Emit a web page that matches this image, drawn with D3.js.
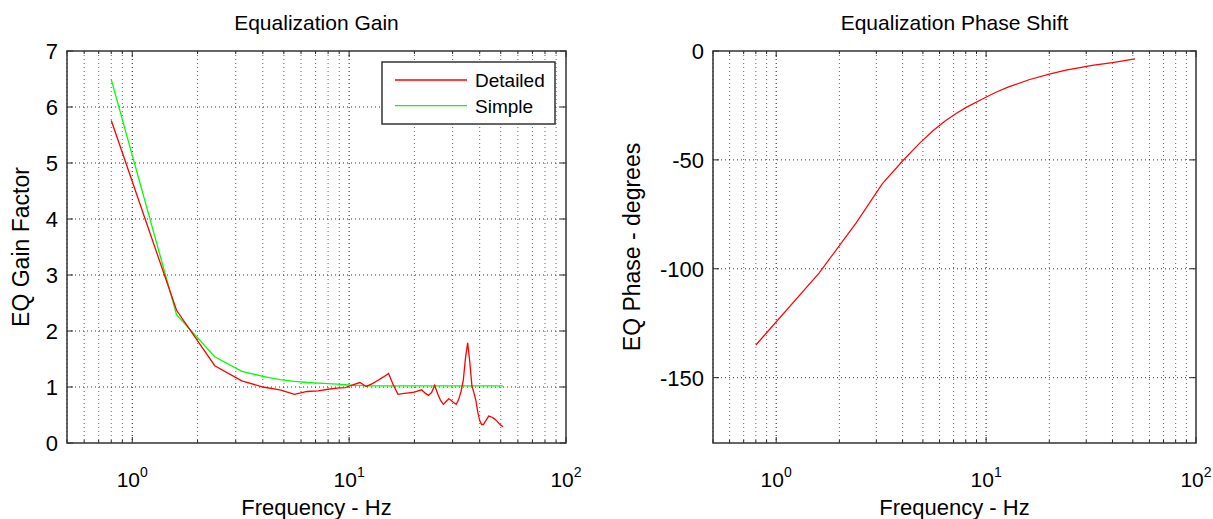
<!DOCTYPE html>
<html>
<head>
<meta charset="utf-8">
<script src="https://cdn.jsdelivr.net/npm/d3@7"></script>
<style>
  body { margin: 0; background: #fff; }
  svg { display: block; font-family: "Liberation Sans", Arial, Helvetica, sans-serif; }
</style>
</head>
<body>
<svg id="chart"></svg>
<script>
// Frequencies (Hz) of the gain samples
const freqs = [0.8, 1.6, 2.4, 3.2, 4.0, 4.8, 5.6, 6.4, 7.2, 8.0,
  8.8, 9.6, 10.4, 11.2, 12.0, 12.8, 13.6, 14.4, 15.2, 16.0,
  16.8, 17.6, 18.4, 19.2, 20.0, 20.8, 21.6, 22.4, 23.2, 24.0,
  24.8, 25.6, 26.4, 27.2, 28.0, 28.8, 29.6, 30.4, 31.2, 32.0,
  32.8, 33.6, 34.4, 35.2, 36.0, 36.8, 37.6, 38.4, 39.2, 40.0,
  40.8, 41.6, 42.4, 43.2, 44.0, 44.8, 45.6, 46.4, 47.2, 48.0,
  48.8, 49.6, 50.4, 51.2];

// EQ gain factor, detailed model
const detailed = [5.76, 2.37, 1.38, 1.11, 1.00, 0.95, 0.87, 0.92, 0.93, 0.96,
  0.98, 0.99, 1.04, 1.08, 1.01, 1.06, 1.12, 1.18, 1.24, 1.03,
  0.87, 0.88, 0.89, 0.90, 0.91, 0.93, 0.95, 0.89, 0.85, 0.90,
  1.03, 0.88, 0.76, 0.69, 0.74, 0.79, 0.76, 0.72, 0.69, 0.78,
  0.92, 1.12, 1.52, 1.79, 1.45, 1.03, 0.90, 0.76, 0.55, 0.40,
  0.33, 0.33, 0.38, 0.43, 0.48, 0.47, 0.46, 0.44, 0.42, 0.39,
  0.36, 0.33, 0.31, 0.29];

// EQ gain factor, simple model
const simple = [6.49, 2.29, 1.54, 1.28, 1.19, 1.13, 1.10, 1.08, 1.07, 1.06,
  1.05, 1.04, 1.03, 1.03, 1.02, 1.02, 1.02, 1.02, 1.02, 1.02,
  1.02, 1.02, 1.02, 1.02, 1.02, 1.02, 1.02, 1.02, 1.02, 1.02,
  1.02, 1.02, 1.02, 1.02, 1.02, 1.02, 1.02, 1.02, 1.02, 1.02,
  1.02, 1.02, 1.02, 1.02, 1.02, 1.02, 1.02, 1.02, 1.02, 1.02,
  1.02, 1.02, 1.02, 1.02, 1.02, 1.02, 1.02, 1.02, 1.02, 1.02,
  1.02, 1.02, 1.02, 1.02];

// Phase shift (degrees)
const phaseFreqs = [0.8, 1.6, 2.4, 3.2, 4.0, 4.8, 5.6, 6.4, 7.2, 8.0,
  9.6, 11.2, 12.8, 16.0, 20.0, 24.0, 28.0, 32.0, 40.0, 51.2];
const phase = [-135, -102, -79, -61, -50.5, -42.5, -36.5, -32, -28.7, -26,
  -22, -18.8, -16.5, -13.2, -10.6, -8.8, -7.6, -6.6, -5.3, -3.6];

const gainTicks = [0, 1, 2, 3, 4, 5, 6, 7];
const phaseTicks = [-150, -100, -50, 0];
const decades = [1, 10, 100];

const W = 1213, H = 519;
const svg = d3.select('#chart').attr('width', W).attr('height', H);

// minor log ticks between 0.5 and 100
const minorTicks = [];
[0.1, 1, 10].forEach(b => {
  for (let k = 2; k <= 9; k++) {
    const v = b * k;
    if (v >= 0.5 && v < 100) minorTicks.push(v);
  }
});

function panel(o) {
  const x = d3.scaleLog().domain([0.5, 100]).range([o.left, o.right]);
  const y = d3.scaleLinear().domain(o.yDomain).range([o.bottom, o.top]);
  const g = svg.append('g');

  // grid
  g.selectAll('.vgrid')
    .data(minorTicks.concat(decades.filter(d => d < 100)))
    .enter().append('line')
    .attr('x1', d => x(d)).attr('x2', d => x(d))
    .attr('y1', o.top).attr('y2', o.bottom)
    .attr('stroke', '#000').attr('stroke-width', 1)
    .attr('stroke-dasharray', '1,3')
    .attr('opacity', d => decades.includes(d) ? 0.9 : 0.6);

  g.selectAll('.hgrid')
    .data(o.yTicks.filter(d => d !== o.yDomain[0] && d !== o.yDomain[1]))
    .enter().append('line')
    .attr('x1', o.left).attr('x2', o.right)
    .attr('y1', d => y(d)).attr('y2', d => y(d))
    .attr('stroke', '#000').attr('stroke-width', 1)
    .attr('stroke-dasharray', '1,3')
    .attr('opacity', 0.8);

  // tick marks, inside the box
  const xt = minorTicks.map(d => ({ v: d, len: 3 })).concat(decades.map(d => ({ v: d, len: 6 })));
  xt.forEach(t => {
    g.append('line').attr('x1', x(t.v)).attr('x2', x(t.v))
      .attr('y1', o.bottom).attr('y2', o.bottom - t.len).attr('stroke', '#222');
    g.append('line').attr('x1', x(t.v)).attr('x2', x(t.v))
      .attr('y1', o.top).attr('y2', o.top + t.len).attr('stroke', '#222');
  });
  o.yTicks.forEach(v => {
    g.append('line').attr('x1', o.left).attr('x2', o.left + 6)
      .attr('y1', y(v)).attr('y2', y(v)).attr('stroke', '#222');
    g.append('line').attr('x1', o.right).attr('x2', o.right - 6)
      .attr('y1', y(v)).attr('y2', y(v)).attr('stroke', '#222');
  });

  // y tick labels
  g.selectAll('.ylab').data(o.yTicks).enter().append('text')
    .attr('x', o.left - 9).attr('y', d => y(d)).attr('dy', '0.36em')
    .attr('text-anchor', 'end').attr('font-size', 22).attr('fill', '#000')
    .text(d => d);

  // x tick labels 10^n
  const xl = g.selectAll('.xlab').data(decades).enter().append('text')
    .attr('x', d => x(d)).attr('y', 487)
    .attr('text-anchor', 'middle').attr('font-size', 21).attr('fill', '#000');
  xl.append('tspan').text('10');
  xl.append('tspan').attr('dy', -10).attr('font-size', 14).text(d => Math.round(Math.log10(d)));

  // box
  g.append('rect').attr('x', o.left).attr('y', o.top)
    .attr('width', o.right - o.left).attr('height', o.bottom - o.top)
    .attr('fill', 'none').attr('stroke', '#333').attr('stroke-width', 1.5);

  // titles and labels
  g.append('text').attr('x', (o.left + o.right) / 2).attr('y', 30)
    .attr('text-anchor', 'middle').attr('font-size', 21).text(o.title);
  g.append('text').attr('x', (o.left + o.right) / 2).attr('y', 515)
    .attr('text-anchor', 'middle').attr('font-size', 22).text('Frequency - Hz');
  g.append('text')
    .attr('transform', `translate(${o.ylabX},${(o.top + o.bottom) / 2}) rotate(-90)`)
    .attr('text-anchor', 'middle').attr('font-size', 23).text(o.ylabel);

  return { x, y, g };
}

// Left: gain
const p1 = panel({ left: 67, right: 566, top: 51, bottom: 443, yDomain: [0, 7], yTicks: gainTicks,
  title: 'Equalization Gain', ylabel: 'EQ Gain Factor', ylabX: 29 });

const line1 = vals => d3.line().x((d, i) => p1.x(freqs[i])).y((d, i) => p1.y(vals[i]))(vals);
p1.g.append('path').attr('d', line1(simple)).attr('fill', 'none')
  .attr('stroke', '#00ff00').attr('stroke-width', 1.3);
p1.g.append('path').attr('d', line1(detailed)).attr('fill', 'none')
  .attr('stroke', '#ff0000').attr('stroke-width', 1.3);

// legend
const lg = p1.g.append('g');
lg.append('rect').attr('x', 382).attr('y', 62).attr('width', 173).attr('height', 62)
  .attr('fill', '#fff').attr('stroke', '#333').attr('stroke-width', 1.5);
[{ name: 'Detailed', color: '#ff0000' }, { name: 'Simple', color: '#00ff00' }].forEach((s, i) => {
  const ly = 80 + i * 25.7;
  lg.append('line').attr('x1', 395).attr('x2', 467).attr('y1', ly).attr('y2', ly)
    .attr('stroke', s.color).attr('stroke-width', 1.3);
  lg.append('text').attr('x', 475).attr('y', ly).attr('dy', '0.36em')
    .attr('font-size', 19).text(s.name);
});

// Right: phase
const p2 = panel({ left: 713, right: 1196, top: 51, bottom: 443, yDomain: [-180, 0], yTicks: phaseTicks,
  title: 'Equalization Phase Shift', ylabel: 'EQ Phase - degrees', ylabX: 640 });

p2.g.append('path')
  .attr('d', d3.line().x((d, i) => p2.x(phaseFreqs[i])).y(d => p2.y(d))(phase))
  .attr('fill', 'none').attr('stroke', '#ff0000').attr('stroke-width', 1.2);
</script>
</body>
</html>
